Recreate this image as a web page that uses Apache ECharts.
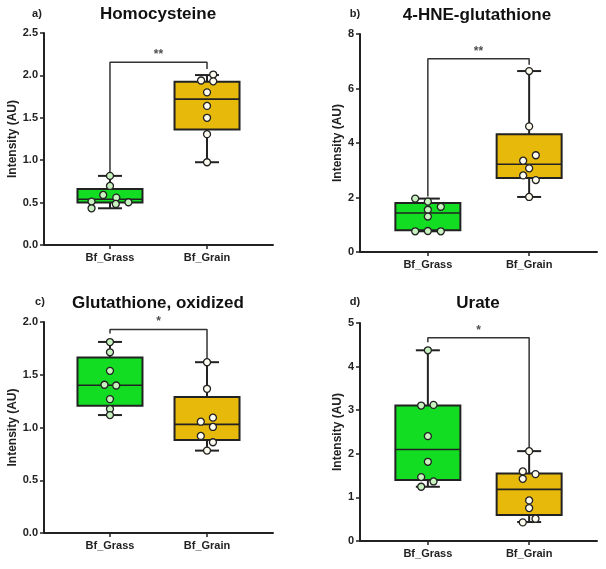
<!DOCTYPE html>
<html>
<head>
<meta charset="utf-8">
<script src="https://cdn.jsdelivr.net/npm/echarts@6/dist/echarts.min.js"></script>
<style>html,body{margin:0;padding:0;background:#fff}#main{width:606px;height:569px}</style>
</head>
<body>
<div id="main"></div>
<script>
var categories = ['Bf_Grass', 'Bf_Grain'];

// a) Homocysteine
var homoGrass = [0.815, 0.697, 0.59, 0.559, 0.512, 0.504, 0.484, 0.433];
var homoGrassJitter = [0, 0, -0.07, 0.065, -0.19, 0.19, 0.06, -0.19];
var homoGrain = [2.01, 1.94, 1.93, 1.80, 1.64, 1.50, 1.307, 0.976];
var homoGrainJitter = [0.064, -0.061, 0.064, 0, 0, 0, 0, 0];
var homoBox = [[0.433, 0.50, 0.539, 0.661, 0.815], [0.976, 1.362, 1.72, 1.925, 2.004]];
var homoBracket = [0.85, 2.154, 2.075];

// b) 4-HNE-glutathione
var hneGrass = [1.96, 1.85, 1.66, 1.55, 1.30, 0.76, 0.77, 0.76];
var hneGrassJitter = [-0.125, 0, 0.128, 0, 0, -0.125, 0, 0.128];
var hneGrain = [6.64, 4.61, 3.55, 3.35, 3.07, 2.81, 2.64, 2.02];
var hneGrainJitter = [0, 0, 0.066, -0.059, 0, -0.059, 0.066, 0];
var hneBox = [[0.76, 0.795, 1.43, 1.80, 1.96], [2.02, 2.72, 3.22, 4.32, 6.64]];
var hneBracket = [2.04, 7.09, 6.87];

// c) Glutathione, oxidized
var gssgGrass = [1.81, 1.713, 1.537, 1.405, 1.398, 1.269, 1.175, 1.118];
var gssgGrassJitter = [0, 0, 0, -0.057, 0.064, 0, 0, 0];
var gssgGrain = [1.619, 1.367, 1.093, 1.055, 1.005, 0.920, 0.860, 0.781];
var gssgGrainJitter = [0, 0, 0.061, -0.064, 0.061, -0.064, 0.061, 0];
var gssgBox = [[1.118, 1.206, 1.40, 1.663, 1.811], [0.781, 0.882, 1.03, 1.288, 1.619]];
var gssgBracket = [1.89, 1.928, 1.654];

// d) Urate
var urateGrass = [4.374, 3.107, 3.122, 2.405, 1.817, 1.466, 1.366, 1.244];
var urateGrassJitter = [0, -0.066, 0.056, 0, 0, -0.066, 0.056, -0.066];
var urateGrain = [2.061, 1.595, 1.534, 1.427, 0.931, 0.756, 0.511, 0.427];
var urateGrainJitter = [0, -0.063, 0.063, -0.063, 0, 0, 0.063, -0.063];
var urateBox = [[1.244, 1.397, 2.099, 3.107, 4.374], [0.435, 0.595, 1.183, 1.55, 2.061]];
var urateBracket = [4.56, 4.66, 2.12];

var FONT = '"Liberation Sans", Arial, sans-serif';
var boxColors = ['#12dd22', '#e6b90a'];
var dotColors = ['#c8f2c0', '#fffdf0'];

var panels = [
  {tag: 'a)', title: 'Homocysteine', grass: homoGrass, grassJit: homoGrassJitter, grain: homoGrain, grainJit: homoGrainJitter,
   box: homoBox, bracket: homoBracket, stars: '**', yMax: 2.5, yStep: 0.5, dec: 1,
   grid: {left: 44, top: 33, width: 229, height: 212}, xr: [-0.68, 1.68], nameGap: 24, tagPos: [37, 14], titlePos: [158, 14]},
  {tag: 'b)', title: '4-HNE-glutathione', grass: hneGrass, grassJit: hneGrassJitter, grain: hneGrain, grainJit: hneGrainJitter,
   box: hneBox, bracket: hneBracket, stars: '**', yMax: 8, yStep: 2, dec: 0,
   grid: {left: 360, top: 34, width: 237, height: 218}, xr: [-0.67, 1.67], nameGap: 16, tagPos: [355, 14], titlePos: [477, 15]},
  {tag: 'c)', title: 'Glutathione, oxidized', grass: gssgGrass, grassJit: gssgGrassJitter, grain: gssgGrain, grainJit: gssgGrainJitter,
   box: gssgBox, bracket: gssgBracket, stars: '*', yMax: 2, yStep: 0.5, dec: 1,
   grid: {left: 44, top: 322, width: 229, height: 211}, xr: [-0.68, 1.68], nameGap: 24, tagPos: [40, 302], titlePos: [158, 303]},
  {tag: 'd)', title: 'Urate', grass: urateGrass, grassJit: urateGrassJitter, grain: urateGrain, grainJit: urateGrainJitter,
   box: urateBox, bracket: urateBracket, stars: '*', yMax: 5, yStep: 1, dec: 0,
   grid: {left: 360, top: 323, width: 237, height: 218}, xr: [-0.67, 1.67], nameGap: 16, tagPos: [355, 302], titlePos: [478, 303]}
];

function renderBox(params, api) {
  var x = api.value(0);
  var lo = api.coord([x, api.value(1)]);
  var q1 = api.coord([x, api.value(2)]);
  var md = api.coord([x, api.value(3)]);
  var q3 = api.coord([x, api.value(4)]);
  var hi = api.coord([x, api.value(5)]);
  var hw = 32.5, cw = 12;
  function ln() { return {stroke: '#222', lineWidth: 2}; }
  return {
    type: 'group',
    children: [
      {type: 'line', shape: {x1: hi[0], y1: hi[1], x2: q3[0], y2: q3[1]}, style: ln()},
      {type: 'line', shape: {x1: lo[0], y1: lo[1], x2: q1[0], y2: q1[1]}, style: ln()},
      {type: 'line', shape: {x1: hi[0] - cw, y1: hi[1], x2: hi[0] + cw, y2: hi[1]}, style: ln()},
      {type: 'line', shape: {x1: lo[0] - cw, y1: lo[1], x2: lo[0] + cw, y2: lo[1]}, style: ln()},
      {type: 'rect', shape: {x: q3[0] - hw, y: q3[1], width: hw * 2, height: q1[1] - q3[1]},
       style: {fill: boxColors[x], stroke: '#222', lineWidth: 2}},
      {type: 'line', shape: {x1: md[0] - hw, y1: md[1], x2: md[0] + hw, y2: md[1]}, style: {stroke: '#222', lineWidth: 1.6}}
    ]
  };
}

function pts(vals, jit, g) {
  var out = [];
  for (var i = 0; i < vals.length; i++) {
    out.push([g + jit[i], vals[i]]);
  }
  return out;
}

var grids = [], xAxes = [], yAxes = [], series = [], graphics = [];

for (var i = 0; i < panels.length; i++) {
  var p = panels[i];
  grids.push(p.grid);
  xAxes.push({
    type: 'value', gridIndex: i, min: p.xr[0], max: p.xr[1],
    splitLine: {show: false},
    axisLine: {onZero: false, lineStyle: {color: '#222', width: 2}},
    axisTick: {customValues: [0, 1], length: 4, lineStyle: {color: '#222', width: 1.5}},
    axisLabel: {customValues: [0, 1], margin: 7, color: '#222', fontFamily: FONT, fontSize: 11, fontWeight: 'bold',
      formatter: function (v) { return categories[Math.round(v)]; }}
  });
  yAxes.push({
    type: 'value', gridIndex: i, min: 0, max: p.yMax, interval: p.yStep,
    name: 'Intensity (AU)', nameLocation: 'middle', nameGap: p.nameGap, nameRotate: 90,
    nameTextStyle: {color: '#222', fontFamily: FONT, fontSize: 12, fontWeight: 'bold'},
    splitLine: {show: false},
    axisLine: {show: true, onZero: false, lineStyle: {color: '#222', width: 2}},
    axisTick: {show: true, length: 4, lineStyle: {color: '#222', width: 1.5}},
    axisLabel: {margin: 6, color: '#222', fontFamily: FONT, fontSize: 11, fontWeight: 'bold',
      formatter: (function (d) { return function (v) { return v.toFixed(d); }; })(p.dec)}
  });

  var b = p.bracket;
  series.push({
    type: 'line', xAxisIndex: i, yAxisIndex: i, symbol: 'none', silent: true, z: 1,
    lineStyle: {color: '#333', width: 1.5},
    data: [[0, b[0]], [0, b[1]], [1, b[1]], [1, b[2]]]
  });
  series.push({
    type: 'scatter', xAxisIndex: i, yAxisIndex: i, symbolSize: 1, silent: true,
    itemStyle: {color: 'transparent'},
    label: {show: true, position: 'top', distance: 1, formatter: p.stars, color: '#222',
      fontFamily: FONT, fontSize: 12, fontWeight: 'bold'},
    data: [[0.5, b[1]]]
  });
  series.push({
    type: 'custom', xAxisIndex: i, yAxisIndex: i, renderItem: renderBox, z: 2,
    encode: {x: 0, y: [1, 2, 3, 4, 5]},
    data: [[0].concat(p.box[0]), [1].concat(p.box[1])]
  });
  series.push({
    type: 'scatter', xAxisIndex: i, yAxisIndex: i, symbolSize: 7, z: 3,
    itemStyle: {color: dotColors[0], borderColor: '#222', borderWidth: 1.3, opacity: 1},
    data: pts(p.grass, p.grassJit, 0)
  });
  series.push({
    type: 'scatter', xAxisIndex: i, yAxisIndex: i, symbolSize: 7, z: 3,
    itemStyle: {color: dotColors[1], borderColor: '#222', borderWidth: 1.3, opacity: 1},
    data: pts(p.grain, p.grainJit, 1)
  });

  graphics.push({
    type: 'text', x: p.tagPos[0], y: p.tagPos[1],
    style: {text: p.tag, font: 'bold 11px ' + FONT, fill: '#222', textAlign: 'center', textVerticalAlign: 'middle'}
  });
  graphics.push({
    type: 'text', x: p.titlePos[0], y: p.titlePos[1],
    style: {text: p.title, font: 'bold 17px ' + FONT, fill: '#111', textAlign: 'center', textVerticalAlign: 'middle'}
  });
}

var chart = echarts.init(document.getElementById('main'));
chart.setOption({
  animation: false,
  backgroundColor: '#fff',
  grid: grids,
  xAxis: xAxes,
  yAxis: yAxes,
  series: series,
  graphic: graphics
});
</script>
</body>
</html>
